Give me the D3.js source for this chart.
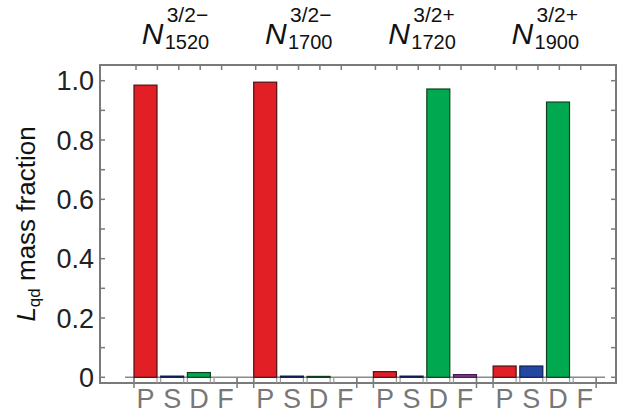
<!DOCTYPE html>
<html><head><meta charset="utf-8">
<script src="https://cdn.jsdelivr.net/npm/d3@7"></script>
<style>body{margin:0;background:#fff;} text{font-family:"Liberation Sans",Arial,Helvetica,sans-serif;}</style>
</head><body>
<svg id="c" width="622" height="413"></svg>
<script>
const groups = ["1520","1700","1720","1900"];
const parities = ["−","−","+","+"];
const waves = ["P","S","D","F"];
const pVals = [0.985, 0.995, 0.019, 0.038];
const sVals = [0.004, 0.004, 0.004, 0.038];
const dVals = [0.016, 0.003, 0.972, 0.928];
const fVals = [0.0, 0.0, 0.009, 0.0];
const yTicks = [0, 0.2, 0.4, 0.6, 0.8, 1.0];
const yTickLabels = ["0", "0.2", "0.4", "0.6", "0.8", "1.0"];

const series = {P:pVals, S:sVals, D:dVals, F:fVals};
const colors = {P:"#e31f26", S:"#2347a0", D:"#00a94f", F:"#8e3b97"};
const strokes = {P:"#4a1012", S:"#0f1f55", D:"#0e3f20", F:"#3c1a45"};

const svg = d3.select("#c");
const frame = {l:100, r:616, t:65, b:383};
const y = d3.scaleLinear().domain([0,1]).range([377.3, 80.7]);
const xg = d3.scaleBand().domain(groups).range([134, 596.2]).paddingInner(0.139).paddingOuter(0);
const xw = d3.scaleBand().domain(waves).range([0, xg.bandwidth()]).paddingInner(0.139).paddingOuter(0);

const gray = "#7a7a7a";

svg.append("rect").attr("x",frame.l).attr("y",frame.t).attr("width",frame.r-frame.l).attr("height",frame.b-frame.t)
  .attr("fill","none").attr("stroke",gray).attr("stroke-width",2);

const minor = d3.range(0, 1.0001, 0.1);
svg.append("g").selectAll("line").data(minor).join("line")
  .attr("x1",frame.l).attr("x2",frame.l+5).attr("y1",d=>y(d)).attr("y2",d=>y(d))
  .attr("stroke",gray).attr("stroke-width",1.5);
svg.append("g").selectAll("line").data(minor).join("line")
  .attr("x1",frame.r).attr("x2",frame.r-5).attr("y1",d=>y(d)).attr("y2",d=>y(d))
  .attr("stroke",gray).attr("stroke-width",1.5);

svg.append("g").selectAll("text").data(yTicks).join("text")
  .attr("x",94).attr("y",d=>y(d)).attr("dy","0.36em").attr("text-anchor","end")
  .attr("font-size",27).attr("fill","#222").text((d,i)=>yTickLabels[i]);

const yt = svg.append("text").attr("transform","translate(35,224) rotate(-90)")
  .attr("text-anchor","middle").attr("font-size",26).attr("fill","#111");
yt.append("tspan").attr("font-style","italic").text("L");
yt.append("tspan").attr("font-size",17).attr("dy",5).text("qd");
yt.append("tspan").attr("dy",-5).text(" mass fraction");

groups.forEach(g=>{
  d3.range(5).forEach(k=>{
    const xx = xg(g) + 2 + k*21.4;
    svg.append("line").attr("x1",xx).attr("x2",xx).attr("y1",frame.t).attr("y2",frame.t+5)
      .attr("stroke",gray).attr("stroke-width",1.5);
  });
});

svg.append("line").attr("x1",125).attr("x2",605).attr("y1",y(0)).attr("y2",y(0))
  .attr("stroke","#8a8a8a").attr("stroke-width",1.5);

const data = [];
groups.forEach((g,gi)=>waves.forEach(w=>data.push({g, w, v:series[w][gi]})));

const edges = [];
data.forEach(d=>{ const x0 = xg(d.g)+xw(d.w); edges.push(x0, x0+xw.bandwidth()); });
svg.append("g").selectAll("line").data(edges).join("line")
  .attr("x1",d=>d).attr("x2",d=>d).attr("y1",y(0)).attr("y2",frame.b)
  .attr("stroke","#9a9a9a").attr("stroke-width",1.2);
const gEdges = [];
groups.forEach(g=>{ gEdges.push(xg(g), xg(g)+xg.bandwidth()); });
svg.append("g").selectAll("line").data(gEdges).join("line")
  .attr("x1",d=>d).attr("x2",d=>d).attr("y1",y(0)).attr("y2",frame.b+5)
  .attr("stroke",gray).attr("stroke-width",1.5);

svg.append("g").selectAll("rect").data(data.filter(d=>d.v>0)).join("rect")
  .attr("x",d=>xg(d.g)+xw(d.w)).attr("width",xw.bandwidth())
  .attr("y",d=>y(d.v)).attr("height",d=>Math.max(1,y(0)-y(d.v)))
  .attr("fill",d=>colors[d.w]).attr("stroke",d=>strokes[d.w]).attr("stroke-width",1.2);

svg.append("g").selectAll("text").data(data).join("text")
  .attr("x",d=>xg(d.g)+xw(d.w)+xw.bandwidth()/2).attr("y",408).attr("text-anchor","middle")
  .attr("font-size",27).attr("fill","#777").text(d=>d.w);

groups.forEach((g,gi)=>{
  const x0 = 141.7 + gi*123.3;
  svg.append("text").attr("x",x0).attr("y",43.5).attr("font-size",30).attr("font-style","italic").attr("fill","#111").text("N");
  svg.append("text").attr("x",x0+25).attr("y",22).attr("font-size",21).attr("fill","#111").text("3/2"+parities[gi]);
  svg.append("text").attr("x",x0+23).attr("y",48.5).attr("font-size",20).attr("fill","#111").text(g);
});
</script>
</body></html>
